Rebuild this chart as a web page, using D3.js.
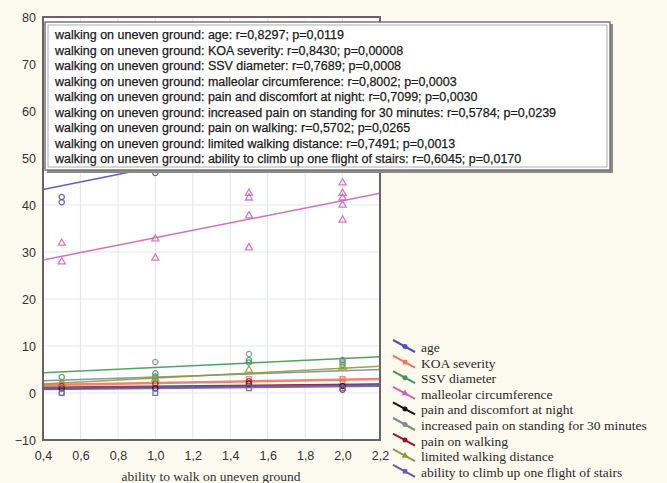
<!DOCTYPE html>
<html lang="en">
<head>
<meta charset="UTF-8">
<title>walking on uneven ground</title>
<script src="https://cdn.jsdelivr.net/npm/d3@7"></script>
<style>
  body { margin: 0; background: #fcf9ee; }
  svg { display: block; }
</style>
</head>
<body>
<div id="chart"></div>
<script>
// series names, in legend order
const seriesNames = ['age', 'KOA severity', 'SSV diameter', 'malleolar circumference',
  'pain and discomfort at night', 'increased pain on standing for 30 minutes',
  'pain on walking', 'limited walking distance', 'ability to climb up one flight of stairs']
const seriesColors = ['#4f4fc4', '#f0775a', '#3f9a55', '#d064b4', '#151515',
  '#7b8c8c', '#8c1b30', '#8e9c3c', '#6c5ca4']
const seriesShapes = ['circle', 'square', 'circle', 'triangle', 'circle', 'circle', 'circle', 'triangle', 'square']

// r and p from the box
const rVals = ['0,8297', '0,8430', '0,7689', '0,8002', '0,7099', '0,5784', '0,5702', '0,7491', '0,6045']
const pVals = ['0,0119', '0,00008', '0,0008', '0,0003', '0,0030', '0,0239', '0,0265', '0,0013', '0,0170']

// observed points, x = ability to walk on uneven ground
const ageX = [0.5, 0.5, 1.0, 1.0, 1.5, 1.5, 2.0, 2.0]
const ageY = [41.7, 40.6, 46.8, 52, 55, 58, 60, 63]
const koaX = [0.5, 1.0, 1.5, 2.0, 2.0]
const koaY = [2, 2.5, 3, 3, 2.5]
const ssvX = [0.5, 1.0, 1.0, 1.5, 1.5, 2.0, 2.0]
const ssvY = [3.4, 4.2, 3.5, 7, 6.5, 7, 6]
const malX = [0.5, 0.5, 1.0, 1.0, 1.5, 1.5, 1.5, 1.5, 2.0, 2.0, 2.0, 2.0, 2.0]
const malY = [31.9, 27.9, 32.8, 28.7, 42.5, 41.5, 37.7, 30.9, 44.7, 42.5, 41.5, 40, 36.8]
const nightX = [0.5, 1.0, 1.5, 2.0]
const nightY = [1, 1, 2, 1.5]
const standX = [0.5, 1.0, 1.5, 2.0]
const standY = [0, 6.6, 8.3, 6.5]
const walkX = [0.5, 1.0, 1.5, 2.0]
const walkY = [1.5, 2, 2.5, 0.7]
const distX = [0.5, 1.0, 1.5, 2.0]
const distY = [2, 3, 4.9, 5.5]
const stairX = [0.5, 1.0, 1.5, 2.0]
const stairY = [0, 0, 1, 1]

// fitted lines, value at x=0.4 and x=2.2
const fitStart = [43.3, 1.7, 4.3, 28.3, 0.9, 2.6, 1.2, 1.9, 0.9]
const fitEnd = [57.7, 3.0, 7.7, 42.5, 1.8, 5.0, 1.9, 5.7, 1.6]

const xTicks = [0.4, 0.6, 0.8, 1.0, 1.2, 1.4, 1.6, 1.8, 2.0, 2.2]
const yTicks = [-10, 0, 10, 20, 30, 40, 50, 60, 70, 80]

const pointsX = [ageX, koaX, ssvX, malX, nightX, standX, walkX, distX, stairX]
const pointsY = [ageY, koaY, ssvY, malY, nightY, standY, walkY, distY, stairY]

const width = 667, height = 483
const pLeft = 43, pRight = 380, pTop = 17, pBottom = 440

const svg = d3.select('#chart').append('svg')
  .attr('width', width).attr('height', height)

const x = d3.scaleLinear().domain([0.4, 2.2]).range([pLeft, pRight])
const y = d3.scaleLinear().domain([-10, 80]).range([pBottom, pTop])
const comma = v => d3.format('.1f')(v).replace('.', ',')

svg.append('rect').attr('x', pLeft).attr('y', pTop).attr('width', pRight - pLeft).attr('height', pBottom - pTop)
  .attr('fill', '#fff')

// grid
svg.append('g').selectAll('line').data(xTicks.slice(1, -1)).join('line')
  .attr('x1', d => x(d)).attr('x2', d => x(d)).attr('y1', pTop).attr('y2', pBottom)
  .attr('stroke', '#e6e8ef').attr('stroke-width', 1.2)
svg.append('g').selectAll('line').data(yTicks.slice(1, -1)).join('line')
  .attr('x1', pLeft).attr('x2', pRight).attr('y1', d => y(d)).attr('y2', d => y(d))
  .attr('stroke', '#e6e8ef').attr('stroke-width', 1.2)

// fit lines
const plot = svg.append('g')
seriesNames.forEach((name, i) => {
  plot.append('line')
    .attr('x1', x(0.4)).attr('y1', y(fitStart[i]))
    .attr('x2', x(2.2)).attr('y2', y(fitEnd[i]))
    .attr('stroke', seriesColors[i])
    .attr('stroke-width', i == 8 ? 3 : (i == 1 ? 2.5 : 1.5))
    .attr('opacity', 0.9)
})

const symbolOf = s => s == 'square' ? d3.symbolSquare : (s == 'triangle' ? d3.symbolTriangle : d3.symbolCircle)

// points
seriesNames.forEach((name, i) => {
  const pts = d3.zip(pointsX[i], pointsY[i])
  plot.append('g').selectAll('path').data(pts).join('path')
    .attr('transform', d => `translate(${x(d[0])},${y(d[1])})`)
    .attr('d', d3.symbol().type(symbolOf(seriesShapes[i])).size(22))
    .attr('fill', 'none')
    .attr('stroke', seriesColors[i])
    .attr('stroke-width', 1.3)
    .attr('opacity', 0.85)
})

// frame
svg.append('rect').attr('x', pLeft).attr('y', pTop).attr('width', pRight - pLeft).attr('height', pBottom - pTop)
  .attr('fill', 'none').attr('stroke', '#6a6264').attr('stroke-width', 2)

// axes
const yAxis = svg.append('g').attr('transform', `translate(${pLeft},0)`)
  .call(d3.axisLeft(y).tickValues(yTicks).tickSize(0).tickPadding(7).tickFormat(d3.format('d')))
const xAxis = svg.append('g').attr('transform', `translate(0,${pBottom})`)
  .call(d3.axisBottom(x).tickValues(xTicks).tickSize(0).tickPadding(11).tickFormat(comma))
;[xAxis, yAxis].forEach(a => {
  a.select('.domain').remove()
  a.selectAll('text').attr('font-family', 'Liberation Sans, Arial, sans-serif')
    .attr('font-size', 12.5).attr('fill', '#333')
})

svg.append('text').attr('x', 211).attr('y', 481).attr('text-anchor', 'middle')
  .attr('font-family', 'Liberation Serif, Times New Roman, serif').attr('font-size', 13.5)
  .attr('fill', '#333').text('ability to walk on uneven ground')

// correlation box
const box = svg.append('g')
box.append('rect').attr('x', 47).attr('y', 24).attr('width', 566).attr('height', 149).attr('fill', '#8a8a8a')
box.append('rect').attr('x', 45).attr('y', 22).attr('width', 565).attr('height', 148)
  .attr('fill', '#fff').attr('stroke', '#777').attr('stroke-width', 1.5)
box.append('rect').attr('x', 48).attr('y', 25).attr('width', 559).attr('height', 142)
  .attr('fill', 'none').attr('stroke', '#999').attr('stroke-width', 0.8)
box.selectAll('text.corr').data(seriesNames).join('text')
  .attr('class', 'corr')
  .attr('x', 55).attr('y', (d, i) => 39 + i * 15.5)
  .attr('font-family', 'Liberation Sans, Arial, sans-serif').attr('font-size', 12.5)
  .attr('fill', '#1a1a1a').attr('stroke', '#1a1a1a').attr('stroke-width', 0.25)
  .text((d, i) => `walking on uneven ground: ${d}: r=${rVals[i]}; p=${pVals[i]}`)

// legend
const legend = svg.append('g').attr('transform', 'translate(393,348)')
const item = legend.selectAll('g').data(seriesNames).join('g')
  .attr('transform', (d, i) => `translate(0,${i * 15.6})`)
item.append('line').attr('x1', 0).attr('y1', -8).attr('x2', 22).attr('y2', 4)
  .attr('stroke', (d, i) => seriesColors[i]).attr('stroke-width', 2)
item.append('path').attr('transform', 'translate(12,-1.5)')
  .attr('d', (d, i) => d3.symbol().type(symbolOf(seriesShapes[i])).size(20)())
  .attr('fill', (d, i) => seriesColors[i])
item.append('text').attr('x', 28).attr('y', 4)
  .attr('font-family', 'Liberation Serif, Times New Roman, serif').attr('font-size', 13.5)
  .attr('fill', '#2a2a2a').text(d => d)
</script>
</body>
</html>
